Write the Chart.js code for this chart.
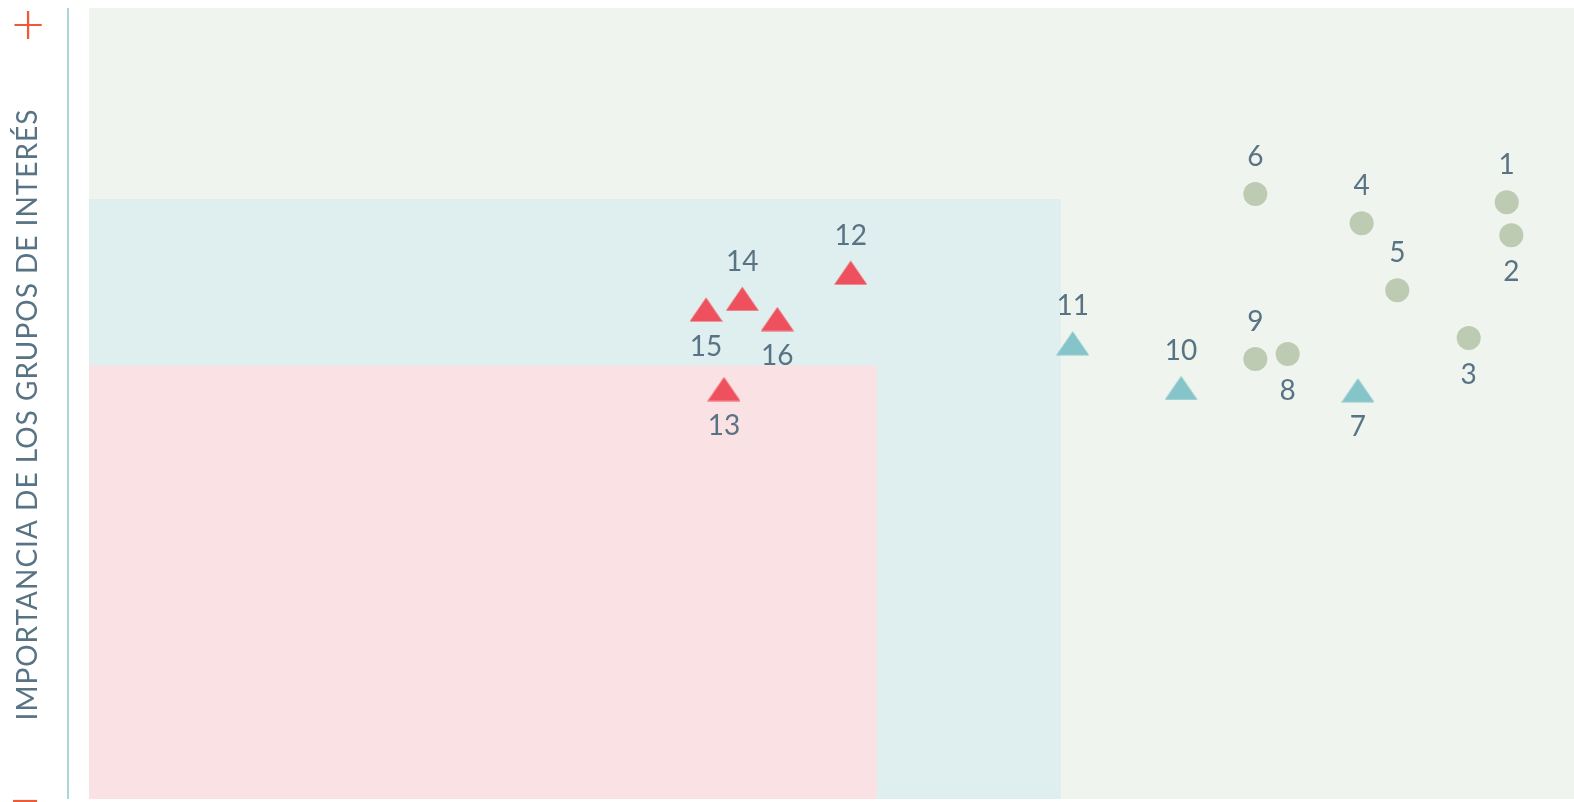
<!DOCTYPE html>
<html>
<head>
<meta charset="utf-8">
<script src="https://cdn.jsdelivr.net/npm/chart.js@4.4.1/dist/chart.umd.min.js"></script>
<style>
  html, body { margin: 0; padding: 0; background: #ffffff; }
  #wrap { position: relative; width: 1574px; height: 802px; }
</style>
</head>
<body>
<div id="wrap"><canvas id="c"></canvas></div>
<script>
// ---- data ----
const pointIds   = [1, 2, 3, 4, 5, 6, 7, 8, 9, 10, 11, 12, 13, 14, 15, 16];
const relevanceX = [95.47, 95.78, 92.91, 85.70, 88.10, 78.54, 85.45, 80.72, 78.54, 73.54, 66.24, 51.29, 42.76, 43.99, 41.55, 46.35];
const importanceY = [75.44, 71.26, 58.28, 72.78, 64.31, 76.49, 51.68, 56.26, 55.63, 51.96, 57.61, 66.54, 51.83, 63.24, 61.88, 60.68];
const pointGroup = ['high', 'high', 'high', 'high', 'high', 'high', 'medium', 'high', 'high', 'medium', 'medium', 'low', 'low', 'low', 'low', 'low'];
const labelSide  = ['top', 'bottom', 'bottom', 'top', 'top', 'top', 'bottom', 'bottom', 'top', 'top', 'top', 'top', 'bottom', 'top', 'bottom', 'bottom'];
const yAxisTitle = 'IMPORTANCIA DE LOS GRUPOS DE INTERÉS';
const axisTopSymbol = '+';
const axisBottomSymbol = '−';
// zone thresholds (data units)
const zoneMediumX = 65.45, zoneMediumY = 75.85;
const zoneLowX = 53.06, zoneLowY = 54.8;

// ---- styles ----
const COL_BG_HIGH = '#eff4ee';
const COL_BG_MED = '#dfeeee';
const COL_BG_LOW = '#fae1e4';
const COL_CIRCLE = '#bccbb1';
const COL_TEAL = '#85c5ca';
const COL_RED = '#ef505d';
const COL_TEXT = '#587383';
const COL_SIGN = '#ee5a36';
const COL_LINE = '#8bc9cd';

function makeTriangle(color) {
  const cv = document.createElement('canvas');
  cv.width = 33; cv.height = 25;
  const g = cv.getContext('2d');
  g.fillStyle = color;
  g.beginPath();
  g.moveTo(16.5, 0.5);
  g.lineTo(33, 24.5);
  g.lineTo(0, 24.5);
  g.closePath();
  g.fill();
  return cv;
}
const triRed = makeTriangle(COL_RED);
const triTeal = makeTriangle(COL_TEAL);

function pts(group) {
  const out = [];
  pointIds.forEach((id, i) => {
    if (pointGroup[i] === group) out.push({ x: relevanceX[i], y: importanceY[i], id: id, side: labelSide[i] });
  });
  return out;
}

const datasets = [
  { label: 'high', data: pts('high'), pointStyle: 'circle', pointRadius: 12, pointBorderWidth: 0, backgroundColor: COL_CIRCLE, borderColor: COL_CIRCLE },
  { label: 'medium', data: pts('medium'), pointStyle: triTeal, pointRadius: 12, backgroundColor: COL_TEAL, borderColor: COL_TEAL },
  { label: 'low', data: pts('low'), pointStyle: triRed, pointRadius: 12, backgroundColor: COL_RED, borderColor: COL_RED }
];

const zonesPlugin = {
  id: 'zones',
  beforeDatasetsDraw(chart) {
    const { ctx, scales: { x, y } } = chart;
    const rect = (x0, y0, x1, y1, c) => {
      const px0 = x.getPixelForValue(x0), px1 = x.getPixelForValue(x1);
      const py0 = y.getPixelForValue(y0), py1 = y.getPixelForValue(y1);
      ctx.fillStyle = c;
      ctx.fillRect(px0, py1, px1 - px0, py0 - py1);
    };
    ctx.save();
    rect(0, 0, 100, 100, COL_BG_HIGH);
    rect(0, 0, zoneMediumX, zoneMediumY, COL_BG_MED);
    rect(0, 0, zoneLowX, zoneLowY, COL_BG_LOW);
    ctx.restore();
  },
  afterDatasetsDraw(chart) {
    const { ctx, chartArea } = chart;
    ctx.save();
    // point labels
    ctx.font = '400 28px Lato';
    ctx.fillStyle = COL_TEXT;
    ctx.textAlign = 'center';
    ctx.textBaseline = 'middle';
    chart.data.datasets.forEach((ds, di) => {
      const meta = chart.getDatasetMeta(di);
      meta.data.forEach((el, i) => {
        const d = ds.data[i];
        const dy = d.side === 'top' ? -37 : 37;
        ctx.fillText(String(d.id), el.x, el.y + dy);
      });
    });
    // vertical axis line
    ctx.strokeStyle = COL_LINE;
    ctx.lineWidth = 1.5;
    ctx.beginPath();
    ctx.moveTo(chartArea.left - 21, chartArea.top);
    ctx.lineTo(chartArea.left - 21, chartArea.bottom);
    ctx.stroke();
    // axis title
    ctx.save();
    ctx.translate(chartArea.left - 61, (chartArea.top + chartArea.bottom) / 2 + 11);
    ctx.rotate(-Math.PI / 2);
    ctx.font = '400 28px Lato';
    ctx.letterSpacing = '1px';
    ctx.fillStyle = COL_TEXT;
    ctx.textAlign = 'center';
    ctx.textBaseline = 'middle';
    ctx.fillText(yAxisTitle, 0, 0);
    ctx.restore();
    // + and − symbols
    ctx.font = '300 58px Lato';
    ctx.fillStyle = COL_SIGN;
    ctx.textAlign = 'center';
    ctx.textBaseline = 'middle';
    ctx.fillText(axisTopSymbol, chartArea.left - 61, chartArea.top + 17);
    ctx.fillText(axisBottomSymbol, chartArea.left - 64, chartArea.bottom + 2);
    ctx.restore();
  }
};

new Chart(document.getElementById('c'), {
  type: 'scatter',
  data: { datasets },
  options: {
    responsive: true,
    maintainAspectRatio: false,
    animation: false,
    events: [],
    layout: { autoPadding: false, padding: { left: 89, top: 8, right: 0, bottom: 3 } },
    plugins: { legend: { display: false }, tooltip: { enabled: false } },
    scales: {
      x: { type: 'linear', min: 0, max: 100, display: false },
      y: { type: 'linear', min: 0, max: 100, display: false }
    }
  },
  plugins: [zonesPlugin]
});
</script>
</body>
</html>
